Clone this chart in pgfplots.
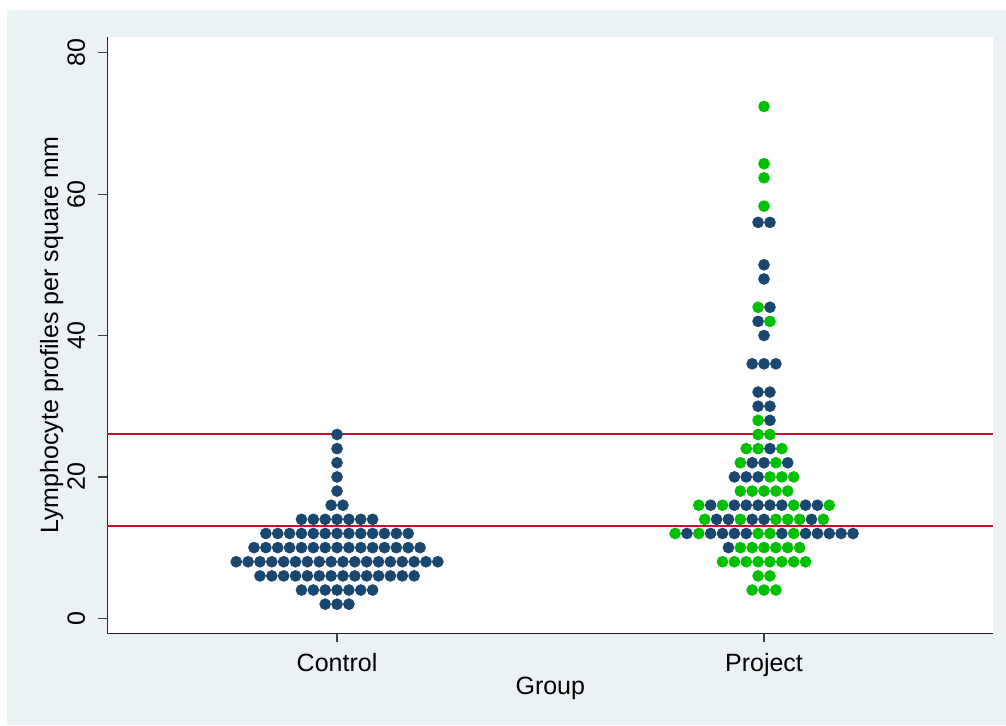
\documentclass[border=0pt]{standalone}
\usepackage{fontspec}
\setmainfont{Liberation Sans}
\usepackage{pgfplots}
\pgfplotsset{compat=1.18}

\definecolor{stblue}{RGB}{26,71,111}
\definecolor{stgreen}{RGB}{0,192,0}
\definecolor{stred}{RGB}{200,16,46}
\definecolor{stbg}{RGB}{234,242,243}

% dot positions: x in dot slots (Control at 0, Project at 36), y = value
\pgfplotstableread{
x y
0 26
0 24
0 22
0 20
0 18
-0.5 16
0.5 16
-3 14
-2 14
-1 14
0 14
1 14
2 14
3 14
-6 12
-5 12
-4 12
-3 12
-2 12
-1 12
0 12
1 12
2 12
3 12
4 12
5 12
6 12
-7 10
-6 10
-5 10
-4 10
-3 10
-2 10
-1 10
0 10
1 10
2 10
3 10
4 10
5 10
6 10
7 10
-8.5 8
-7.5 8
-6.5 8
-5.5 8
-4.5 8
-3.5 8
-2.5 8
-1.5 8
-0.5 8
0.5 8
1.5 8
2.5 8
3.5 8
4.5 8
5.5 8
6.5 8
7.5 8
8.5 8
-6.5 6
-5.5 6
-4.5 6
-3.5 6
-2.5 6
-1.5 6
-0.5 6
0.5 6
1.5 6
2.5 6
3.5 6
4.5 6
5.5 6
6.5 6
-3 4
-2 4
-1 4
0 4
1 4
2 4
3 4
-1 2
0 2
1 2
}\controlblue

\pgfplotstableread{
x y
35.5 56
36.5 56
36 50
36 48
36.5 44
35.5 42
36 40
35 36
36 36
37 36
35.5 32
36.5 32
35.5 30
36.5 30
36.5 28
36.5 24
35 22
36 22
38 22
33.5 20
34.5 20
35.5 20
31.5 16
33.5 16
34.5 16
35.5 16
36.5 16
37.5 16
39.5 16
40.5 16
32 14
33 14
35 14
36 14
40 14
29.5 12
31.5 12
32.5 12
33.5 12
34.5 12
37.5 12
39.5 12
40.5 12
41.5 12
42.5 12
43.5 12
33 10
}\projectblue

\pgfplotstableread{
x y
36 72.4
36 64.3
36 62.3
36 58.3
35.5 44
36.5 42
35.5 28
35.5 26
36.5 26
34.5 24
35.5 24
37.5 24
34 22
37 22
36.5 20
37.5 20
38.5 20
34 18
35 18
36 18
37 18
38 18
30.5 16
32.5 16
38.5 16
41.5 16
31 14
34 14
37 14
38 14
39 14
41 14
28.5 12
30.5 12
35.5 12
36.5 12
38.5 12
34 10
35 10
36 10
37 10
38 10
39 10
32.5 8
33.5 8
34.5 8
35.5 8
36.5 8
37.5 8
38.5 8
39.5 8
35.5 6
36.5 6
35 4
36 4
37 4
}\projectgreen

\begin{document}
\begin{tikzpicture}
\useasboundingbox (-53.65pt,-45.85pt) rectangle (449.35pt,316.65pt);
\fill[white] (-53.65pt,-45.85pt) rectangle (449.35pt,316.65pt);
\fill[stbg] (-50.15pt,-45.85pt) rectangle (449.35pt,311.65pt);
\begin{axis}[
  at={(0pt,0pt)}, anchor=south west,
  width=443pt, height=298pt, scale only axis,
  xmin=-19.37, xmax=55.33,
  ymin=-2.12, ymax=82.18,
  axis background/.style={fill=white},
  axis x line*=bottom, axis y line*=left,
  axis line style={-, line width=0.6pt, black!85},
  tick pos=left, tick align=outside,
  major tick length=4.5pt,
  every tick/.style={black!75, line width=0.6pt},
  xtick={0,36}, xticklabels={Control,Project},
  ytick={0,20,40,60,80},
  /pgf/number format/assume math mode=true,
  tick label style={font=\fontsize{12.5}{15}\selectfont},
  label style={font=\fontsize{12.5}{15}\selectfont},
  xticklabel style={anchor=base, yshift=-14.35pt},
  yticklabel style={xshift=-6.65pt, rotate=90, anchor=base},
  xlabel={Group},
  ylabel={Lymphocyte profiles per square mm},
  xlabel style={at={(axis description cs:0.5,-0.1035)}, anchor=base},
  ylabel style={at={(axis description cs:-0.0556,0.5)}, rotate=0, anchor=base},
  clip=false,
]
\addplot[only marks, mark=*, mark size=2.7pt, color=stblue] table[x=x, y=y] {\controlblue};
\addplot[only marks, mark=*, mark size=2.7pt, color=stblue] table[x=x, y=y] {\projectblue};
\addplot[only marks, mark=*, mark size=2.7pt, color=stgreen] table[x=x, y=y] {\projectgreen};
\addplot[stred, line width=1pt] coordinates {(-19.37,26) (55.33,26)};
\addplot[stred, line width=1pt] coordinates {(-19.37,13) (55.33,13)};
\end{axis}
\end{tikzpicture}
\end{document}
